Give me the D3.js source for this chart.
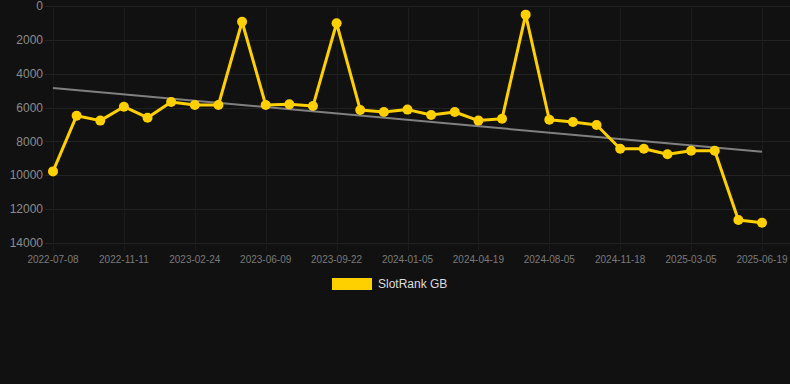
<!DOCTYPE html>
<html><head><meta charset="utf-8">
<script src="https://cdn.jsdelivr.net/npm/d3@7"></script>
<style>html,body{margin:0;padding:0;background:#111111;}svg{display:block;}</style>
</head><body><div id="chart"></div>
<script>
const dates = ["2022-07-08","2022-08-12","2022-09-16","2022-11-11","2022-12-16","2023-01-20","2023-02-24","2023-03-31","2023-05-05","2023-06-09","2023-07-14","2023-08-18","2023-09-22","2023-10-27","2023-12-01","2024-01-05","2024-02-09","2024-03-15","2024-04-19","2024-05-24","2024-06-28","2024-08-05","2024-09-09","2024-10-14","2024-11-18","2024-12-23","2025-01-28","2025-03-05","2025-04-09","2025-05-14","2025-06-19"];
const rankValues = [9770,6480,6770,5950,6600,5670,5850,5850,930,5850,5810,5910,1020,6140,6260,6120,6440,6260,6770,6660,510,6720,6850,7030,8430,8430,8760,8550,8550,12640,12800];
const trendValues = [4840, 8610];
const yTicks = [0,2000,4000,6000,8000,10000,12000,14000];
const seriesName = "SlotRank GB";

const W = 790, H = 384;
const m = {left:53, right:28, top:6, bottom:141};
const svg = d3.select("#chart").append("svg").attr("width",W).attr("height",H);
svg.append("rect").attr("width",W).attr("height",H).attr("fill","#111111");

const x = d3.scalePoint().domain(dates).range([m.left, W-m.right]);
const y = d3.scaleLinear().domain([0,14000]).range([m.top, H-m.bottom]);

const xTickVals = dates.filter((d,i)=>i%3===0);

// grid
const g = svg.append("g");
g.selectAll(".hg").data(yTicks).join("line")
  .attr("x1", m.left-8).attr("x2", W)
  .attr("y1", d=>Math.round(y(d))+0.5).attr("y2", d=>Math.round(y(d))+0.5)
  .attr("stroke","#222222").attr("stroke-width",1);
g.selectAll(".vg").data(xTickVals).join("line")
  .attr("x1", d=>Math.round(x(d))+0.5).attr("x2", d=>Math.round(x(d))+0.5)
  .attr("y1", m.top).attr("y2", H-m.bottom+8)
  .attr("stroke","#1c1c1c").attr("stroke-width",1);

// y labels
svg.append("g").selectAll("text").data(yTicks).join("text")
  .attr("x", 43).attr("y", d=>y(d)).attr("dy","0.35em")
  .attr("text-anchor","end")
  .attr("font-family","Liberation Sans, Arial, sans-serif").attr("font-size",12)
  .attr("fill","#8c8c8c").text(d=>d);

// x labels
svg.append("g").selectAll("text").data(xTickVals).join("text")
  .attr("x", d=>x(d)).attr("y", H-m.bottom+20)
  .attr("text-anchor","middle")
  .attr("font-family","Liberation Sans, Arial, sans-serif").attr("font-size",10)
  .attr("fill","#7a7a7a").text(d=>d);

// trend line
svg.append("line")
  .attr("x1", x(dates[0])).attr("y1", y(trendValues[0]))
  .attr("x2", x(dates[dates.length-1])).attr("y2", y(trendValues[1]))
  .attr("stroke","#808080").attr("stroke-width",2);

const data = dates.map((d,i)=>({d, v:rankValues[i]}));
svg.append("path").datum(data)
  .attr("d", d3.line().x(p=>x(p.d)).y(p=>y(p.v)))
  .attr("fill","none").attr("stroke","#FFD000").attr("stroke-width",3)
  .attr("stroke-linejoin","round");
svg.append("g").selectAll("circle").data(data).join("circle")
  .attr("cx", p=>x(p.d)).attr("cy", p=>y(p.v)).attr("r",5)
  .attr("fill","#FFD000");

// legend
const lg = svg.append("g");
lg.append("rect").attr("x",332).attr("y",278).attr("width",40).attr("height",12).attr("fill","#FFD000");
lg.append("text").attr("x",378).attr("y",284).attr("dy","0.35em")
  .attr("font-family","Liberation Sans, Arial, sans-serif").attr("font-size",12)
  .attr("fill","#dddddd").text(seriesName);
</script>
</body></html>
